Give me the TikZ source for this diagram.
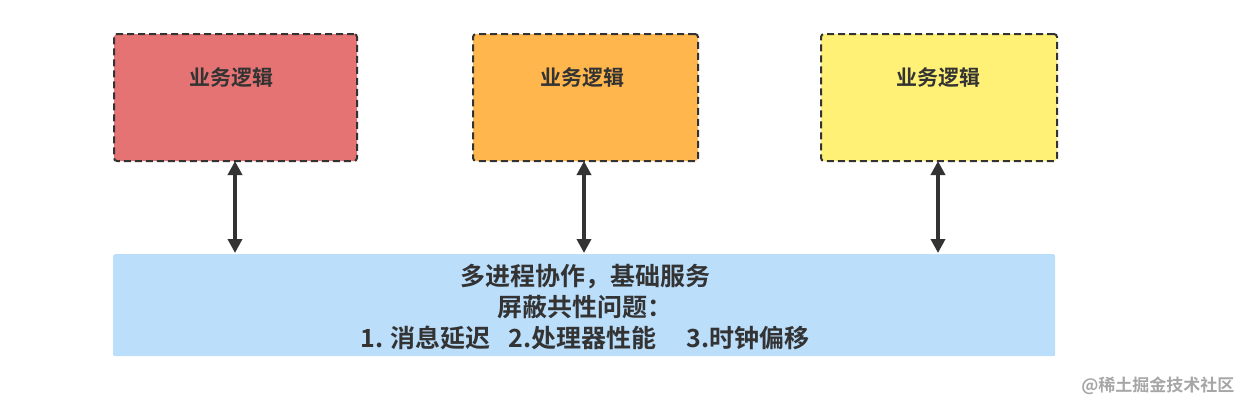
\documentclass[tikz,border=0pt]{standalone}
\usepackage{fontspec}
\newfontfamily\cjk{Noto Sans CJK SC Bold}
\usetikzlibrary{arrows.meta}
\definecolor{cred}{HTML}{E57373}
\definecolor{corange}{HTML}{FFB74D}
\definecolor{cyellow}{HTML}{FFF176}
\definecolor{cblue}{HTML}{BBDEFB}
\definecolor{cdark}{HTML}{333333}
\tikzset{
  logicbox/.style={draw=cdark, line width=2pt, dash pattern=on 7pt off 4pt, rounded corners=3pt, anchor=north west, inner sep=0pt},
  boxtitle/.style={font=\cjk\fontsize{21}{24}\selectfont, text=cdark},
  link/.style={draw=cdark, line width=4pt, {Triangle[length=14pt,width=14pt]}-{Triangle[length=14pt,width=14pt]}, shorten <=1pt, shorten >=1pt},
}
\begin{document}
\begin{tikzpicture}[x=1pt,y=-1pt]
\useasboundingbox (0,0) rectangle (1244,407);
\node[logicbox, fill=cred, minimum width=243pt, minimum height=127pt] (b1) at (113,33) {};
\node[logicbox, fill=corange, minimum width=225pt, minimum height=127pt] (b2) at (472,33) {};
\node[logicbox, fill=cyellow, minimum width=236pt, minimum height=127pt] (b3) at (820,33) {};
\node[boxtitle] (t1) at (231,78) {业务逻辑};
\node[boxtitle] (t2) at (582,78) {业务逻辑};
\node[boxtitle] (t3) at (938,78) {业务逻辑};
\node[fill=cblue, rounded corners=2pt, anchor=north west, minimum width=942pt, minimum height=102pt, inner sep=0pt] (base) at (113,254) {};
\node[font=\cjk\fontsize{25}{31}\selectfont, text=cdark, align=center] (bt) at (585,307) {多进程协作，基础服务\\屏蔽共性问题：\\1. 消息延迟\hspace{18pt}2.处理器性能\hspace{30pt}3.时钟偏移};
\coordinate (a1t) at (235,160);
\coordinate (a1b) at (235,254);
\coordinate (a2t) at (584,160);
\coordinate (a2b) at (584,254);
\coordinate (a3t) at (938,160);
\coordinate (a3b) at (938,254);
\draw[link] (a1t) -- (a1b);
\draw[link] (a2t) -- (a2b);
\draw[link] (a3t) -- (a3b);
\node[font=\cjk\fontsize{17}{20}\selectfont, text=black!35, anchor=east] (wm) at (1238,386) {@稀土掘金技术社区};
\end{tikzpicture}
\end{document}
